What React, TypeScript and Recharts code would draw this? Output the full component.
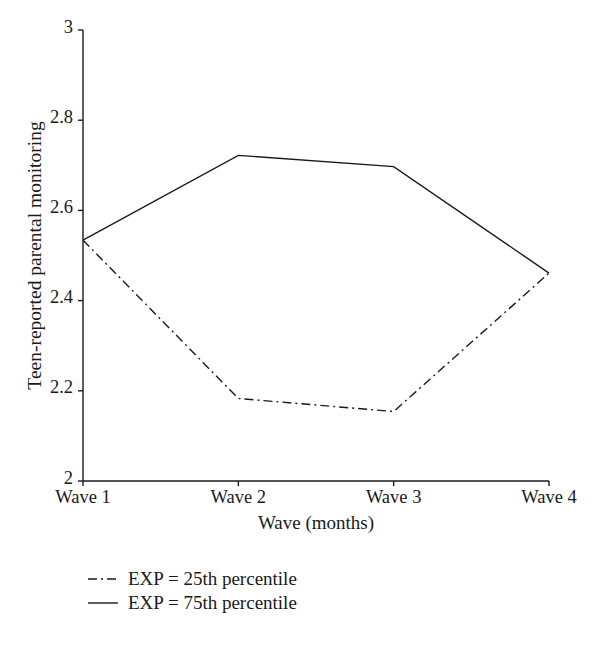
import React from 'react';
import {Legend, Line, LineChart, XAxis, YAxis} from 'recharts';

const waves = ['Wave 1', 'Wave 2', 'Wave 3', 'Wave 4'];
const exp25 = [2.534, 2.183, 2.154, 2.461];
const exp75 = [2.534, 2.722, 2.697, 2.461];
const yTicks = [2, 2.2, 2.4, 2.6, 2.8, 3];

const data = waves.map((wave, i) => ({wave, exp25: exp25[i], exp75: exp75[i]}));

const FONT = '"Liberation Serif", "DejaVu Serif", serif';
const INK = '#1a1a1a';
const DASH_DOT = '9 4 2 4';

const legendItems = [
    {label: 'EXP = 25th percentile', dash: DASH_DOT},
    {label: 'EXP = 75th percentile', dash: undefined},
];

const LegendBox = () => (
    <div style={{fontFamily: FONT, fontSize: 19, color: INK}}>
        {legendItems.map(item => (
            <div key={item.label} style={{display: 'flex', alignItems: 'center', height: 24}}>
                <svg width={40} height={10} style={{marginRight: 8}}>
                    <line x1={8} y1={5} x2={38} y2={5} stroke={INK} strokeWidth={1.4}
                          strokeDasharray={item.dash}/>
                </svg>
                <span>{item.label}</span>
            </div>
        ))}
    </div>
);

const App: React.FC = () => {
    return (
        <div style={{position: 'absolute', left: 0, top: 0, background: '#fff'}}>
            <LineChart width={600} height={646} data={data}
                       margin={{top: 30, right: 51, left: 23, bottom: 117}}>
                <XAxis dataKey="wave" height={48} padding={{left: 0, right: 0}}
                       axisLine={{stroke: INK, strokeWidth: 1.4}}
                       tickLine={{stroke: INK, strokeWidth: 1.4}} tickSize={5} tickMargin={4}
                       tick={{fill: INK, fontSize: 18.5, fontFamily: FONT}}
                       label={{value: 'Wave (months)', position: 'insideBottom', offset: 0,
                           fill: INK, fontSize: 19, fontFamily: FONT}}/>
                <YAxis domain={[2, 3]} ticks={yTicks} width={60} interval={0}
                       axisLine={{stroke: INK, strokeWidth: 1.4}}
                       tickLine={{stroke: INK, strokeWidth: 1.4}} tickSize={5} tickMargin={5}
                       tick={{fill: INK, fontSize: 18.5, fontFamily: FONT, dy: -4}}
                       label={{value: 'Teen-reported parental monitoring', angle: -90,
                           position: 'center', dx: -19, fill: INK, fontSize: 19.5, fontFamily: FONT}}/>
                <Line type="linear" dataKey="exp25" stroke={INK} strokeWidth={1.4}
                      strokeDasharray={DASH_DOT} dot={false} activeDot={false}
                      isAnimationActive={false}/>
                <Line type="linear" dataKey="exp75" stroke={INK} strokeWidth={1.4}
                      dot={false} activeDot={false} isAnimationActive={false}/>
                <Legend layout="vertical" align="center" verticalAlign="middle"
                        content={() => <LegendBox/>}
                        wrapperStyle={{position: 'absolute', top: 567, left: 80, width: 'auto'}}/>
            </LineChart>
        </div>
    );
};

export default App;
